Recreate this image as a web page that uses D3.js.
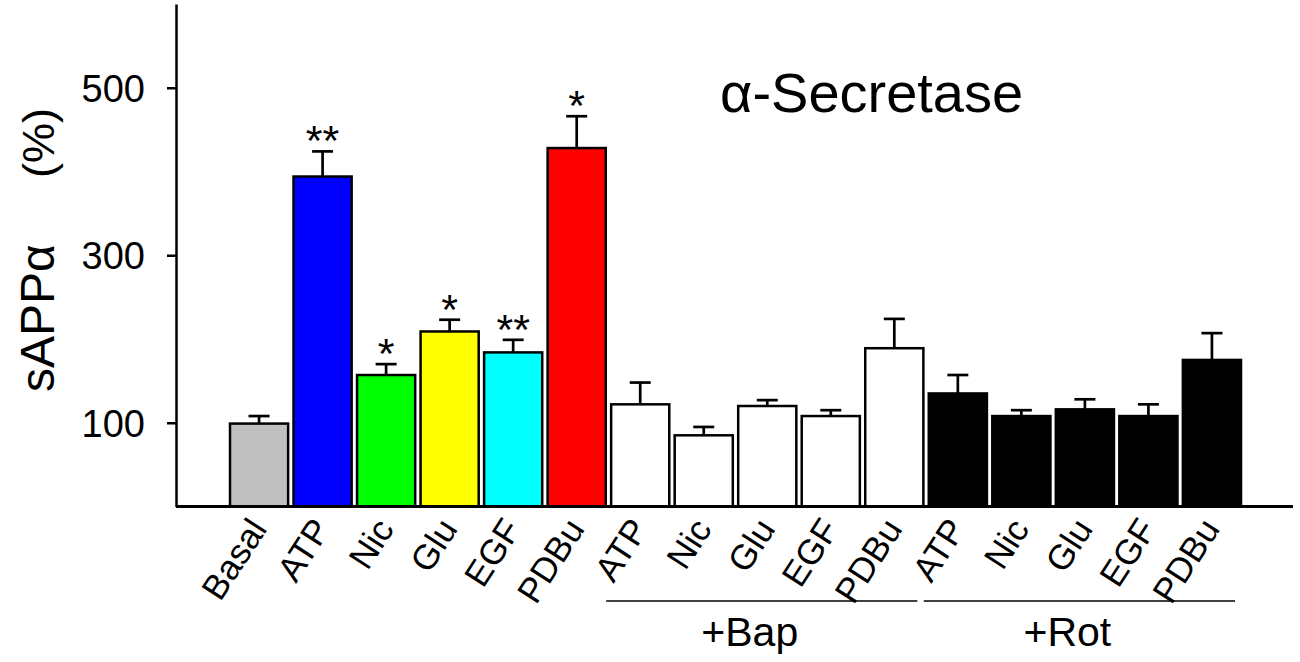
<!DOCTYPE html>
<html>
<head>
<meta charset="utf-8">
<script src="https://cdn.jsdelivr.net/npm/d3@7"></script>
<style>
  body { margin: 0; background: #fff; }
  svg { display: block; font-family: Arial, 'Liberation Sans', sans-serif; }
</style>
</head>
<body>
<div id="chart"></div>
<script>
'use strict';

// bar labels, left to right
var categories = ['Basal', 'ATP', 'Nic', 'Glu', 'EGF', 'PDBu',
  'ATP', 'Nic', 'Glu', 'EGF', 'PDBu',
  'ATP', 'Nic', 'Glu', 'EGF', 'PDBu'];
// treatment group of each bar ('' = no inhibitor)
var treatments = ['', '', '', '', '', '',
  'Bap', 'Bap', 'Bap', 'Bap', 'Bap',
  'Rot', 'Rot', 'Rot', 'Rot', 'Rot'];
// sAPPalpha (% of basal), mean and SEM
var means = [99, 394, 157, 209, 184, 428, 122, 85, 120, 108, 189, 135, 108, 116, 108, 175];
var errors = [9, 30, 13, 14, 15, 38, 26, 10, 7, 7, 35, 22, 7, 12, 14, 32];
var stars = ['', '**', '*', '*', '**', '*', '', '', '', '', '', '', '', '', '', ''];
var yTicks = [100, 300, 500];
var groupNames = ['Bap', 'Rot'];
var groupLabels = ['+Bap', '+Rot'];

var width = 1300;
var height = 662;

var data = categories.map(function (c, i) {
  return {
    id: i,
    label: c,
    group: treatments[i],
    key: treatments[i] ? treatments[i] : c,
    mean: means[i],
    err: errors[i],
    star: stars[i]
  };
});

var color = d3.scaleOrdinal()
  .domain(['Basal', 'ATP', 'Nic', 'Glu', 'EGF', 'PDBu', 'Bap', 'Rot'])
  .range(['#c0c0c0', '#0000ff', '#00ff00', '#ffff00', '#00ffff', '#ff0000', '#ffffff', '#000000']);

var svg = d3.select('#chart').append('svg')
  .attr('width', width).attr('height', height);

var x = d3.scaleBand().domain(data.map(function (d) { return d.id; }))
  .range([230, 1241]).paddingInner(0.085).paddingOuter(0);
var y = d3.scaleLinear().domain([0, 600]).range([506.5, 4]);

// bars
svg.append('g').selectAll('rect').data(data).enter().append('rect')
  .attr('x', function (d) { return x(d.id); })
  .attr('y', function (d) { return y(d.mean); })
  .attr('width', x.bandwidth())
  .attr('height', function (d) { return y(0) - y(d.mean); })
  .style('fill', function (d) { return color(d.key); })
  .style('stroke', '#000').style('stroke-width', 2.5);

// error bars
var eb = svg.append('g').selectAll('g').data(data).enter().append('g')
  .attr('transform', function (d) { return 'translate(' + (x(d.id) + x.bandwidth() / 2) + ',0)'; })
  .style('stroke', '#000').style('stroke-width', 2.7);
eb.append('line')
  .attr('y1', function (d) { return y(d.mean); })
  .attr('y2', function (d) { return y(d.mean + d.err); });
eb.append('line')
  .attr('x1', -10.5).attr('x2', 10.5)
  .attr('y1', function (d) { return y(d.mean + d.err); })
  .attr('y2', function (d) { return y(d.mean + d.err); });

// significance marks
svg.append('g').selectAll('text').data(data.filter(function (d) { return d.star; })).enter().append('text')
  .attr('x', function (d) { return x(d.id) + x.bandwidth() / 2; })
  .attr('y', function (d) { return y(d.mean + d.err) + 4; })
  .attr('text-anchor', 'middle')
  .style('font-size', '43px')
  .text(function (d) { return d.star; });

// axes
var yAxis = d3.axisLeft(y).tickValues(yTicks).tickSize(9).tickSizeOuter(0);
var yAxisSvg = svg.append('g').attr('transform', 'translate(176,0)').call(yAxis);
yAxisSvg.select('.domain').style('stroke-width', 2.5);
yAxisSvg.selectAll('.tick line').style('stroke-width', 2.5);
yAxisSvg.selectAll('.tick text')
  .attr('x', -31).attr('dy', '0.36em')
  .style('font-size', '38px')
  .style('font-family', 'Arial, "Liberation Sans", sans-serif');

svg.append('line')
  .attr('x1', 176).attr('x2', 1293)
  .attr('y1', y(0)).attr('y2', y(0))
  .style('stroke', '#000').style('stroke-width', 3);

// category labels
svg.append('g').selectAll('text').data(data).enter().append('text')
  .attr('transform', function (d) {
    return 'translate(' + (x(d.id) + x.bandwidth() / 2 + 9) + ',529) rotate(-57)';
  })
  .attr('text-anchor', 'end')
  .style('font-size', '35px')
  .text(function (d) { return d.label; });

// treatment brackets
groupNames.forEach(function (g, i) {
  var ids = data.filter(function (d) { return d.group === g; }).map(function (d) { return d.id; });
  var x0 = x(ids[0]) - 5;
  var x1 = x(ids[ids.length - 1]) + x.bandwidth() - 6;
  svg.append('line')
    .attr('x1', x0).attr('x2', x1).attr('y1', 601).attr('y2', 601)
    .style('stroke', '#000').style('stroke-width', 1.6);
  svg.append('text')
    .attr('x', (x0 + x1) / 2 - 12).attr('y', 646)
    .attr('text-anchor', 'middle')
    .style('font-size', '41px')
    .text(groupLabels[i]);
});

// y axis title
svg.append('text')
  .attr('transform', 'translate(54,392) rotate(-90)')
  .style('font-size', '48px')
  .text('sAPPα');
svg.append('text')
  .attr('transform', 'translate(54,108) rotate(-90)')
  .attr('text-anchor', 'end')
  .style('font-size', '45px')
  .text('(%)');

// panel title
svg.append('text')
  .attr('x', 720).attr('y', 112)
  .style('font-size', '56px')
  .text('α-Secretase');
</script>
</body>
</html>
